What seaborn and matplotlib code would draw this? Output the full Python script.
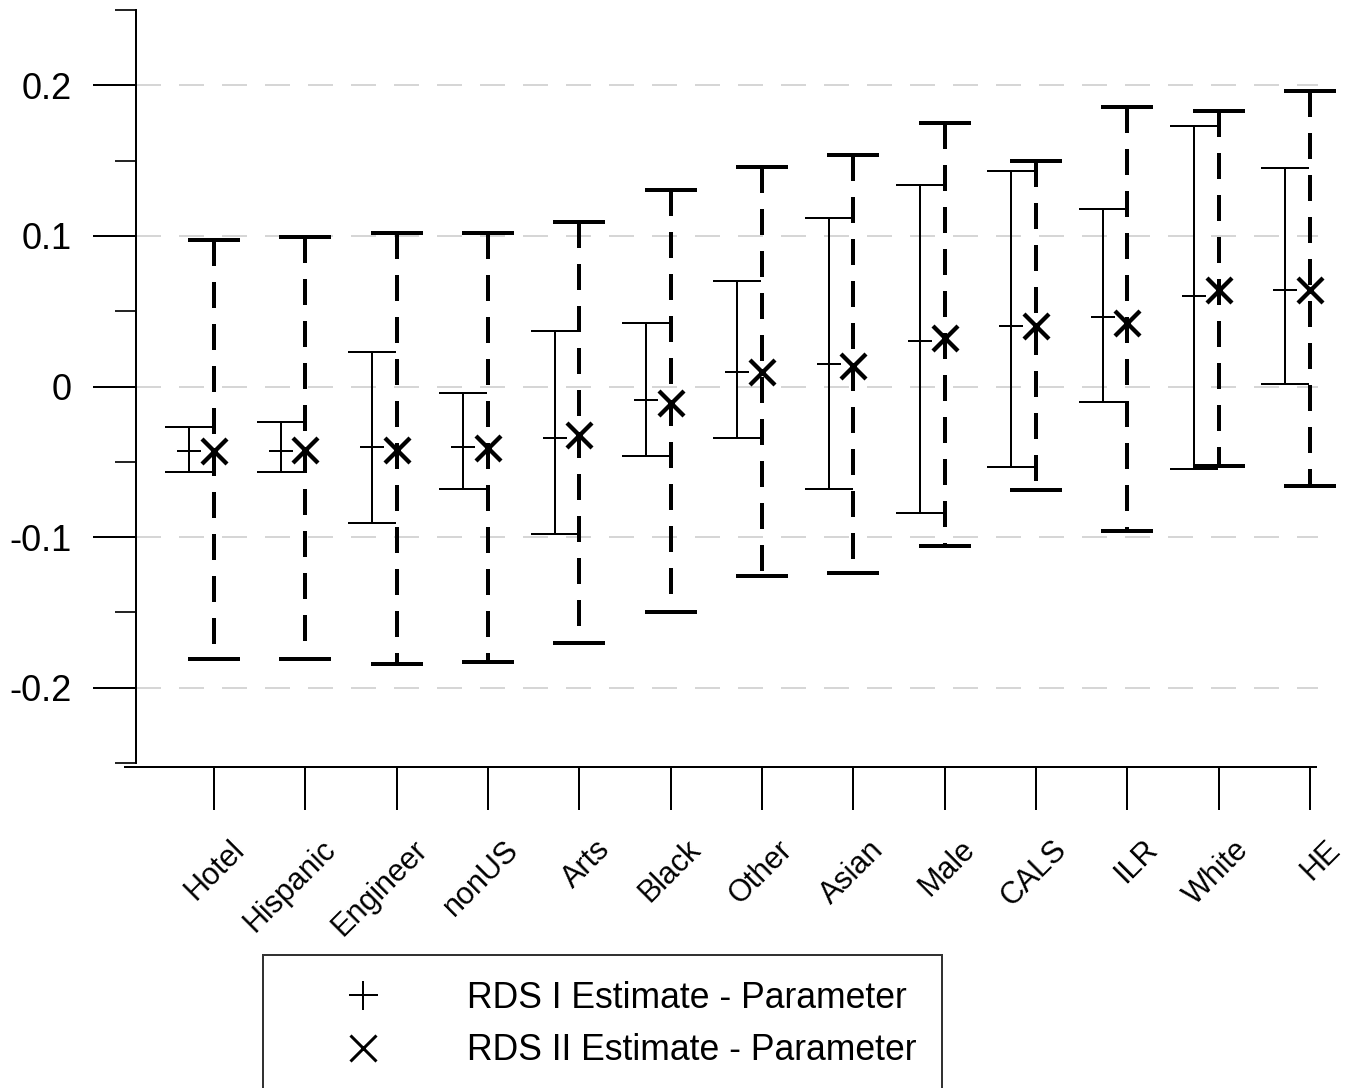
import numpy as np
import pandas as pd
import matplotlib
matplotlib.use("Agg")
import matplotlib.pyplot as plt
from matplotlib.lines import Line2D
from matplotlib.transforms import ScaledTranslation
import seaborn as sns

# values
categories = ["Hotel", "Hispanic", "Engineer", "nonUS", "Arts", "Black", "Other",
              "Asian", "Male", "CALS", "ILR", "White", "HE"]

rds1_est = [-0.043, -0.043, -0.040, -0.040, -0.034, -0.009, 0.0095,
            0.015, 0.030, 0.040, 0.046, 0.060, 0.064]
rds1_lo = [-0.0565, -0.0565, -0.0905, -0.068, -0.098, -0.046, -0.034,
           -0.068, -0.084, -0.0535, -0.010, -0.055, 0.0015]
rds1_hi = [-0.027, -0.0235, 0.023, -0.0045, 0.037, 0.042, 0.070,
           0.112, 0.134, 0.143, 0.118, 0.173, 0.145]

rds2_est = [-0.043, -0.042, -0.042, -0.041, -0.032, -0.011, 0.0095,
            0.0135, 0.0325, 0.0405, 0.042, 0.064, 0.064]
rds2_lo = [-0.181, -0.181, -0.184, -0.183, -0.170, -0.150, -0.126,
           -0.124, -0.106, -0.069, -0.096, -0.053, -0.066]
rds2_hi = [0.097, 0.099, 0.102, 0.102, 0.1095, 0.1305, 0.146,
           0.1535, 0.175, 0.150, 0.1855, 0.183, 0.196]

legend_labels = ["RDS I Estimate - Parameter", "RDS II Estimate - Parameter"]

sns.set_style("white")
plt.rcParams["font.family"] = ["Liberation Sans", "DejaVu Sans"]
plt.rcParams["text.color"] = "black"

PX = 0.72  # points per pixel at dpi 100
pos = np.arange(len(categories))
offset = -0.27

df1 = pd.DataFrame({"x": pos + offset, "est": rds1_est, "lo": rds1_lo, "hi": rds1_hi})
df2 = pd.DataFrame({"x": pos, "est": rds2_est, "lo": rds2_lo, "hi": rds2_hi})

fig = plt.figure(figsize=(13.47, 10.88), dpi=100)
ax = fig.add_axes([136 / 1347, 1 - 763 / 1088, (1318 - 136) / 1347, (763 - 10) / 1088])

# spines first: set_position resets the ticks
for side in ["top", "right"]:
    ax.spines[side].set_visible(False)
ax.spines["left"].set_color("black")
ax.spines["left"].set_linewidth(2 * PX)
ax.spines["bottom"].set_color("black")
ax.spines["bottom"].set_linewidth(2 * PX)
ax.spines["bottom"].set_position(("outward", 4 * PX))

# RDS I: thin solid intervals
eb1 = ax.errorbar(df1["x"], df1["est"],
                  yerr=[df1["est"] - df1["lo"], df1["hi"] - df1["est"]],
                  fmt="none", ecolor="black", elinewidth=2 * PX,
                  capsize=24 * PX, capthick=2 * PX, zorder=3)

# RDS II: thick dashed intervals (dash pattern starting from the top)
eb2 = ax.errorbar(df2["x"], df2["est"],
                  yerr=[df2["est"] - df2["lo"], df2["hi"] - df2["est"]],
                  fmt="none", ecolor="black", elinewidth=4 * PX,
                  capsize=26 * PX, capthick=4 * PX, zorder=3)
lc = eb2.lines[2][0]
lc.set_segments([s[::-1] for s in lc.get_segments()])
lc.set_linestyle((0, (6.5, 4)))
for eb in (eb1, eb2):
    for art in eb.get_children():
        art.set_clip_on(False)

sns.scatterplot(data=df1, x="x", y="est", marker="+", s=(24 * PX) ** 2,
                color="black", linewidth=2 * PX, ax=ax, zorder=4, legend=False,
                clip_on=False)
sns.scatterplot(data=df2, x="x", y="est", marker="x", s=(25 * PX) ** 2,
                color="black", linewidth=4.3 * PX, ax=ax, zorder=4, legend=False,
                clip_on=False)

ax.set_xlim((136 - 214) / 91.33, (1318 - 214) / 91.33)
ax.set_ylim(-0.25, 0.25)
ax.set_xlabel("")
ax.set_ylabel("")
ax.spines["bottom"].set_bounds((125 - 214) / 91.33, (1316 - 214) / 91.33)

ax.tick_params(axis="y", which="major", length=43 * PX, width=2 * PX,
               pad=21 * PX, labelsize=26, colors="black", left=True)
ax.tick_params(axis="y", which="minor", length=21 * PX, width=2 * PX, left=True)
ax.tick_params(axis="x", which="major", length=43 * PX, width=2 * PX,
               pad=35 * PX, labelsize=22, colors="black", bottom=True)

ax.set_yticks([-0.2, -0.1, 0, 0.1, 0.2])
ax.set_yticklabels(["-0.2", "-0.1", "0", "0.1", "0.2"])
ax.set_yticks(np.arange(-0.25, 0.26, 0.1), minor=True)
ax.set_xticks(pos)
ax.set_xticklabels(categories)
shift = ScaledTranslation(26 / 100, 0, fig.dpi_scale_trans)
for lab in ax.get_xticklabels():
    lab.set_rotation(45)
    lab.set_ha("right")
    lab.set_va("center")
    lab.set_rotation_mode("anchor")
    lab.set_transform(lab.get_transform() + shift)

ax.yaxis.grid(True, which="major", color="#d6d6d6", linewidth=2 * PX,
              linestyle=(0, (12.5, 9)))
ax.xaxis.grid(False)
ax.set_axisbelow(True)

handles = [
    Line2D([], [], linestyle="none", marker="+", markersize=29 * PX,
           markeredgewidth=2 * PX, color="black"),
    Line2D([], [], linestyle="none", marker="x", markersize=27 * PX,
           markeredgewidth=3 * PX, color="black"),
]
leg = fig.legend(handles, legend_labels, loc="upper left",
                 bbox_to_anchor=(263 / 1347, 1 - 955 / 1088),
                 borderaxespad=0, fontsize=25.6, frameon=True, fancybox=False,
                 edgecolor="black", borderpad=0.72, handlelength=4.2,
                 handletextpad=0.82, labelspacing=0.5)
leg.get_frame().set_linewidth(2 * PX)
for t in leg.get_texts():
    t.set_color("black")

fig.savefig("out.png", dpi=100)
